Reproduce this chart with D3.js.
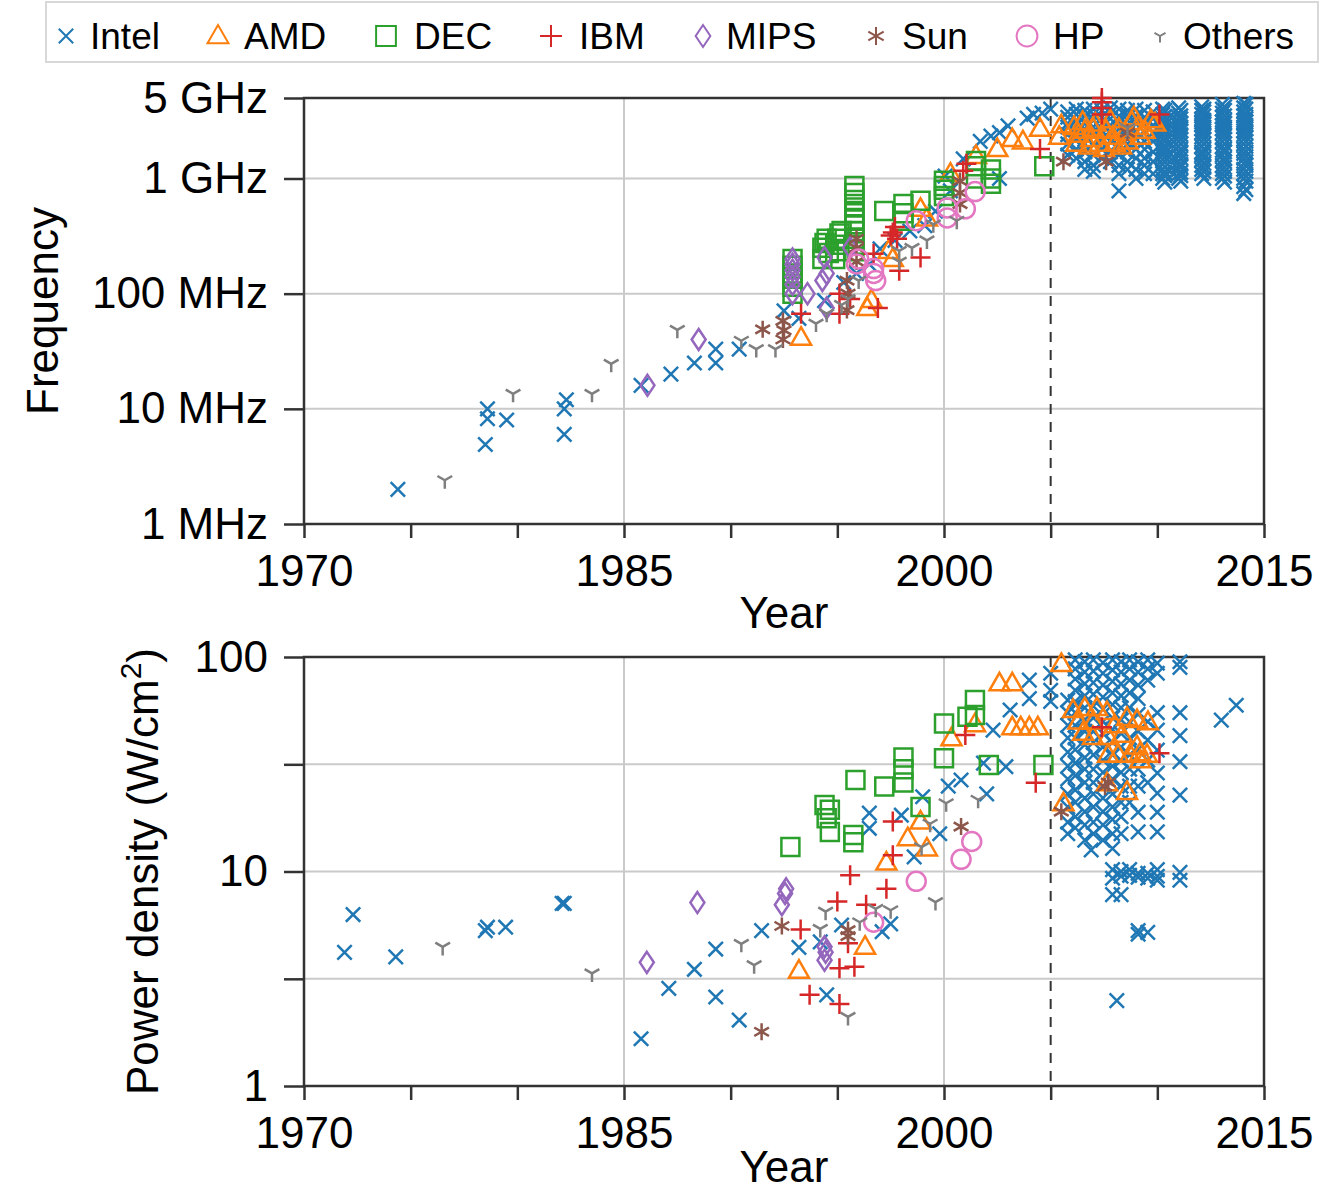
<!DOCTYPE html>
<html>
<head>
<meta charset="utf-8">
<script src="https://cdn.jsdelivr.net/npm/d3@7"></script>
<style>
  body { margin: 0; background: #fff; }
  svg text { font-family: "Liberation Sans", Arial, Helvetica, sans-serif; fill: #000; }
  .tick text { font-size: 44px; }
</style>
</head>
<body>
<svg id="chart" width="1342" height="1192"></svg>
<script>
// ---- data: [year, MHz] for the frequency panel, [year, W/cm2] for power density ----
var vendors = ["Intel", "AMD", "DEC", "IBM", "MIPS", "Sun", "HP", "Others"];
var yearTicks = [1970, 1975, 1980, 1985, 1990, 1995, 2000, 2005, 2010, 2015];
var yearLabels = [1970, 1985, 2000, 2015];
var freqTicks = [1, 10, 100, 1000, 5000];
var freqTickLabels = ["1 MHz", "10 MHz", "100 MHz", "1 GHz", "5 GHz"];
var powerTicks = [1, 3.16, 10, 31.6, 100];
var powerTickLabels = ["1", "", "10", "", "100"];

var intelFreq = [
  [1974.4,2],[1978.5,4.9],[1978.6,8.2],[1978.6,10],[1979.5,8],[1982.2,6],[1982.2,10],[1982.3,12],
  [1985.8,16],[1987.2,20],[1988.3,25],[1989.3,25],[1989.3,33],[1990.4,33],
  [1992.5,71],[1993.2,61],[1994.4,87],[1995.3,125],[1995.9,150],[1996.5,180],[1997.0,245],[1997.7,290],
  [1998.4,350],[1999.1,390],[1999.6,520],[2000.05,1050],[2000.3,780],
  [2000.9,1480],[2001.7,2100],[2002.2,2340],[2002.6,2500],[2002.6,1000],[2003.0,2860],[2003.9,3340],
  [2004.2,3600],[2004.6,3700],[2005.0,4000]
];
// dense runs of Intel parts after 2005, one entry per year position
var intelFreqColumns = [
  [2005.8,[3800,3400,3000,2800,2400,2000,1600]],
  [2006.2,[4000,3600,3200,2900,2600,2200,1800,1500]],
  [2006.6,[3900,3500,3000,2700,2300,2000,1700,1400,1200]],
  [2007.0,[4000,3600,3200,2800,2400,2000,1600,1300,1150]],
  [2007.4,[3900,3400,3000,2600,2200,1800,1500]],
  [2007.8,[4100,3700,3300,2900,2500,2100,1700,1400]],
  [2008.2,[4000,3500,3100,2700,2300,1900,1600,1300,1100,780]],
  [2008.6,[3900,3600,3200,2800,2400,2000,1700,1400,1200]],
  [2009.0,[4000,3500,3000,2600,2200,1800,1500,1200,1000]],
  [2009.4,[3900,3400,3000,2500,2100,1800,1500,1300,1100]],
  [2009.8,[3800,3300,2900,2500,2100,1700,1400,1100]],
  [2010.25,[4000,3600,3300,3000,2800,2600,2400,2200,2000,1860,1730,1600,1460,1330,1200,1100,1000]],
  [2010.35,[3900,3460,3200,2930,2660,2500,2260,2130,1900,1800,1660,1530,1400,1260,1130,1060,930]],
  [2011.0,[4100,3700,3400,3100,2900,2700,2500,2300,2100,1900,1700,1560,1400,1300,1200,1100,1000]],
  [2011.1,[3900,3500,3300,3000,2800,2600,2400,2200,2000,1800,1660,1500,1330,1260,1130,1060,950]],
  [2012.08,[4200,3900,3600,3300,3100,2900,2700,2500,2300,2100,1900,1700,1600,1450,1300,1200,1100]],
  [2012.18,[4000,3800,3500,3200,3000,2800,2600,2400,2200,2000,1800,1650,1500,1350,1250,1150,1000]],
  [2013.05,[4400,4000,3700,3400,3100,2900,2700,2500,2300,2100,1900,1750,1600,1450,1300,1200,1100,1000]],
  [2013.15,[4200,3900,3500,3200,3000,2800,2600,2400,2200,2000,1800,1700,1500,1400,1250,1150,1050,930]],
  [2014.05,[4500,4100,3800,3500,3200,3000,2800,2600,2400,2200,2000,1800,1650,1500,1350,1200,1100,1000,850,740]],
  [2014.15,[4400,4000,3600,3300,3100,2900,2700,2500,2300,2100,1900,1700,1550,1400,1300,1150,1050,950,800]]
];
var amdFreq = [
  [1993.3,41.5],[1996.4,75],[1996.6,88],[1997.4,235],[1997.6,200],[1998.9,545],[1999.2,450],[2000.3,1100],
  [2001.5,1570],[2002.5,1800],[2003.2,2200],[2003.7,2100],[2004.5,2700],[2005.4,2300],[2005.5,2900],
  [2006.1,2800],[2006.2,2000],[2006.3,2400],[2006.5,3100],[2006.6,2600],[2006.8,1900],[2006.9,2200],
  [2007.0,2700],[2007.1,3000],[2007.3,2000],[2007.5,1800],[2007.6,2600],[2007.8,3200],[2007.9,2300],
  [2008.0,2000],[2008.2,2700],[2008.3,1900],[2008.5,2500],[2008.6,2100],[2008.8,3100],[2008.9,3400],
  [2009.1,2800],[2009.2,2300],[2009.4,2600],[2009.7,3200],[2009.9,3000]
];
var decFreq = [
  [1992.9,100],[1992.9,115],[1992.9,135],[1992.9,150],[1992.9,175],[1992.9,200],
  [1994.3,200],[1994.3,250],[1994.4,275],[1994.5,300],[1994.6,225],[1994.9,266],[1994.9,200],
  [1995.0,300],[1995.1,333],[1995.1,233],[1995.2,350],
  [1995.8,860],[1995.8,750],[1995.8,650],[1995.8,560],[1995.8,500],[1995.8,440],[1995.8,400],
  [1995.8,350],[1995.8,300],[1995.8,266],[1995.8,233],
  [1997.2,523],[1998.1,600],[1998.1,500],[1998.1,430],[1998.9,640],[2000.0,955],[2000.0,860],
  [2000.0,800],[2000.0,705],[2001.5,1420],[2001.5,1280],[2001.5,1000],[2002.2,1200],[2002.2,1000],
  [2002.2,900],[2004.7,1280]
];
var ibmFreq = [
  [1993.3,67],[1995.1,100],[1995.1,67],[1995.6,90],[1996.7,222],[1996.9,75],[1997.6,340],[1997.7,380],
  [1997.8,300],[1997.5,320],[1997.9,158],[1998.9,206],[2000.9,1170],[2001.05,1340],[2004.5,1800],
  [2007.4,5000],[2007.4,4600],[2007.4,4100],[2007.4,3600],[2010.1,3600]
];
var mipsFreq = [
  [1986.1,16],[1988.5,40],[1992.9,100],[1992.9,120],[1992.9,140],[1992.9,160],[1992.9,180],[1992.9,200],
  [1993.6,100],[1994.3,130],[1994.4,206],[1994.5,150],[1994.5,75],[1995.6,250]
];
var sunFreq = [
  [1991.5,49],[1992.45,58],[1992.45,40],[1992.5,48],[1995.45,130],[1995.45,72],[1995.5,100],[1995.9,300],
  [1995.9,250],[1995.9,190],[2000.75,950],[2000.75,750],[2000.75,600],[2005.6,1400],[2007.6,1400],[2008.6,2500]
];
var hpFreq = [
  [1995.9,181],[1996.0,200],[1996.7,165],[1996.7,150],[1996.8,130],[1998.7,430],[2000.15,555],
  [2000.15,455],[2001.0,545],[2001.46,770]
];
var othersFreq = [
  [1976.6,2.4],[1979.8,13.5],[1983.5,13.5],[1984.4,24.6],[1987.5,48.5],[1990.5,39],[1991.2,33],[1992.1,33],
  [1994.0,55],[1994.5,67],[1995.2,80],[1995.5,90],[1996.0,130],[1997.9,235],[1997.9,190],[1998.5,250],
  [1999.2,290],[1999.5,400],[2000.6,430],[2008.6,2750]
];

var intelPower = [
  [1971.9,4.2],[1972.3,6.3],[1974.3,4.0],[1978.5,5.3],[1978.6,5.5],[1979.45,5.5],[1982.1,7.1],[1982.2,7.1],
  [1985.8,1.66],[1987.1,2.85],[1988.3,3.5],[1989.3,4.35],[1989.3,2.6],[1990.4,2.03],[1991.45,5.3],
  [1993.2,4.43],[1994.2,4.7],[1994.5,2.66],[1995.2,5.63],[1996.5,18.7],[1996.5,15.9],[1997.1,5.24],[1997.5,5.7],
  [1998.0,18.3],[1998.6,11.7],[1999.0,22.3],[1999.8,15],[2000.2,25],[2000.8,26.7],[2001.85,32],[2002.0,23],
  [2002.3,45.6],[2002.9,30.8],[2003.1,56.6],[2004.0,78],[2004.0,64],[2005.0,84],[2005.0,70],[2005.0,62],
  [2006.9,12.6],[2007.9,12.8],[2008.1,2.5],[2013.0,50.8],[2013.7,59.6]
];
var intelPowerColumns = [
  [2005.8,[63,55,48,42,36,31,27,23,20,17,15]],
  [2006.15,[97,88,79,70,62,55,48,42,37,32,28,24,21,18,16]],
  [2006.6,[95,85,75,66,58,51,45,39,34,30,26,22,19,16.5,14]],
  [2007.0,[97,86,76,67,59,52,45,40,35,30,26,23,20,17,15]],
  [2007.45,[94,84,74,65,57,50,44,38,33,29,25,22,19,16.5,14]],
  [2007.9,[97,87,77,68,60,52,46,40,35,31,27,23,20,17.5,15,10.2,9.3,7.8]],
  [2008.3,[95,85,75,66,58,51,44,38,33,29,25,21,18,15,10,9.5,7.8]],
  [2008.7,[97,88,78,68,58,50,42,35,30,25,21,10.2,9.6]],
  [2009.1,[95,85,74,64,54,45,37,30,25,18.9,15.3,9.8,9.4,5.3,5.1]],
  [2009.55,[97,88,78,50,41,33,26,9.8,9.3,5.2]],
  [2010.0,[93.6,84,55,45.6,36.8,28.8,23.2,18.9,15.3,10.2,9.5,9.1]],
  [2011.06,[95,89.5,55,43,32.5,22.7,9.9,9.1]]
];
var amdPower = [
  [1993.2,3.45],[1996.3,4.46],[1997.3,11],[1998.3,14.3],[1998.9,17.1],[1999.2,12.8],[2000.35,41.8],
  [2001.45,48.6],[2002.6,75.4],[2003.2,75.4],[2003.2,47],[2003.6,47],[2004.0,47],[2004.4,47],[2005.5,92.8],
  [2005.6,20.8],[2006.05,56.6],[2006.3,50],[2006.52,44.3],[2006.6,57.8],[2006.98,42.4],[2007.0,50],
  [2007.17,57.8],[2007.64,55.4],[2007.64,25.8],[2007.69,42.4],[2007.69,35],[2008.0,48],[2008.16,35],
  [2008.34,43.4],[2008.58,52],[2008.58,23.5],[2008.72,35],[2009.05,50.8],[2009.05,38.3],[2009.19,35.6],
  [2009.2,33],[2009.52,35],[2009.56,49.7]
];
var decPower = [
  [1992.8,13],[1994.4,20.4],[1994.65,19.4],[1994.5,17.7],[1994.65,15.3],[1995.75,14.8],[1995.75,13.7],
  [1995.85,26.7],[1997.2,24.9],[1998.1,34],[1998.1,30],[1998.1,26],[1998.9,20],[2000.0,49],[2000.0,33.7],
  [2001.1,52.7],[2001.45,63],[2001.45,53.6],[2002.1,31.4],[2004.66,31.4]
];
var ibmPower = [
  [1993.28,5.37],[1993.7,2.66],[1995.1,2.41],[1995.0,7.24],[1995.1,3.54],[1995.5,4.63],[1995.6,9.6],
  [1995.8,3.6],[1996.35,7.0],[1997.3,8.3],[1997.6,11.9],[1997.6,17.1],[2001.0,43.3],[2004.3,25.9],
  [2007.4,47],[2010.1,35.6]
];
var mipsPower = [
  [1986.07,3.77],[1988.44,7.16],[1992.4,7.0],[1992.55,7.9],[1992.6,8.3],[1994.4,4.46],[1994.4,3.86],[1994.45,4.2]
];
var sunPower = [
  [1991.45,1.79],[1992.4,5.57],[1995.5,5.33],[1995.5,5.0],[2000.8,16.2],[2005.5,19],[2007.55,24.9],[2007.7,26]
];
var hpPower = [
  [1996.7,5.8],[1998.7,9.0],[2000.8,11.4],[2001.3,13.8]
];
var othersPower = [
  [1976.5,4.45],[1983.5,3.35],[1990.5,4.6],[1991.1,3.66],[1994.45,6.5],[1994.2,5.4],[1995.5,2.1],[1996.05,5.8],
  [1996.8,6.7],[1997.5,6.6],[1999.6,7.2],[1999.35,16.7],[1998.95,13],[2000.1,20.8],[2001.6,21.6]
];

// ---- marker shapes (pgfplots-like) ----
var shapes = {
  cross: function(k) { var s = 7.2 * k; return "M" + -s + "," + -s + "L" + s + "," + s + "M" + -s + "," + s + "L" + s + "," + -s; },
  triangle: function(k) { return "M0," + (-10.5 * k) + "L" + (10 * k) + "," + (7 * k) + "L" + (-10 * k) + "," + (7 * k) + "Z"; },
  square: function(k) { var s = 9 * k; return "M" + -s + "," + -s + "H" + s + "V" + s + "H" + -s + "Z"; },
  plus: function(k) { var s = 10 * k; return "M" + -s + ",0H" + s + "M0," + -s + "V" + s; },
  diamond: function(k) { return "M0," + (-10.5 * k) + "L" + (7 * k) + ",0L0," + (10.5 * k) + "L" + (-7 * k) + ",0Z"; },
  asterisk: function(k) {
    var r = 8.5 * k, a = r * 0.866, b = r * 0.5;
    return "M0," + -r + "V" + r + "M" + -a + "," + -b + "L" + a + "," + b + "M" + -a + "," + b + "L" + a + "," + -b;
  },
  circle: function(k) { var r = 9.5 * k; return "M" + r + ",0A" + r + "," + r + " 0 1,1 " + -r + ",0A" + r + "," + r + " 0 1,1 " + r + ",0"; },
  mercedes: function(k) {
    var r = 8.5 * k, a = r * 0.866, b = r * 0.5;
    return "M0,0V" + r + "M0,0L" + -a + "," + -b + "M0,0L" + a + "," + -b;
  }
};

function flatten(cols) {
  var out = [];
  cols.forEach(function(c) { c[1].forEach(function(v) { out.push([c[0], v]); }); });
  return out;
}

var series = [
  {name: "Intel",  color: "#1f77b4", shape: "cross",    freq: intelFreq.concat(flatten(intelFreqColumns)), power: intelPower.concat(flatten(intelPowerColumns)), lx: 66,   tx: 90,   ls: 1.0},
  {name: "AMD",    color: "#ff7f0e", shape: "triangle", freq: amdFreq,    power: amdPower,    lx: 218,  tx: 244,  ls: 1.05},
  {name: "DEC",    color: "#2ca02c", shape: "square",   freq: decFreq,    power: decPower,    lx: 386,  tx: 414,  ls: 1.1},
  {name: "IBM",    color: "#d62728", shape: "plus",     freq: ibmFreq,    power: ibmPower,    lx: 551,  tx: 579,  ls: 1.1},
  {name: "MIPS",   color: "#9467bd", shape: "diamond",  freq: mipsFreq,   power: mipsPower,   lx: 703,  tx: 726,  ls: 1.05},
  {name: "Sun",    color: "#8c564b", shape: "asterisk", freq: sunFreq,    power: sunPower,    lx: 876,  tx: 902,  ls: 1.05},
  {name: "HP",     color: "#e377c2", shape: "circle",   freq: hpFreq,     power: hpPower,     lx: 1027, tx: 1053, ls: 1.1},
  {name: "Others", color: "#7f7f7f", shape: "mercedes", freq: othersFreq, power: othersPower, lx: 1160, tx: 1183, ls: 0.75}
];

var svg = d3.select("#chart");
var left = 304, right = 1264;

var x = d3.scaleLinear().domain([1970, 2015]).range([left, right]);
var yFreq = d3.scaleLog().domain([1, 5000]).range([524, 98]);
var yPower = d3.scaleLog().domain([1, 100]).range([1086, 657]);

function drawPanel(y, key, yTicks, yLabels, yGrid, titleY, yTitle, titleX) {
  var top = y.range()[1], bottom = y.range()[0];
  var g = svg.append("g");

  // grid
  g.selectAll(".hgrid").data(yGrid).enter().append("line")
      .attr("x1", left).attr("x2", right)
      .attr("y1", function(d) { return y(d); }).attr("y2", function(d) { return y(d); })
      .style("stroke", "#cacaca").style("stroke-width", 2);
  g.selectAll(".vgrid").data([1985, 2000]).enter().append("line")
      .attr("x1", function(d) { return x(d); }).attr("x2", function(d) { return x(d); })
      .attr("y1", top).attr("y2", bottom)
      .style("stroke", "#cacaca").style("stroke-width", 2);

  // 2005 marker
  g.append("line")
      .attr("x1", x(2005)).attr("x2", x(2005)).attr("y1", top).attr("y2", bottom)
      .style("stroke", "#333").style("stroke-width", 2).style("stroke-dasharray", "10,8");

  // axes
  var xAxis = g.append("g")
      .attr("transform", "translate(0," + bottom + ")")
      .call(d3.axisBottom(x).tickValues(yearTicks)
        .tickFormat(function(d) { return yearLabels.indexOf(d) >= 0 ? d : ""; })
        .tickSizeInner(14).tickSizeOuter(0).tickPadding(17));
  var yAxis = g.append("g")
      .attr("transform", "translate(" + left + ",0)")
      .call(d3.axisLeft(y).tickValues(yTicks)
        .tickFormat(function(d, i) { return yLabels[i]; })
        .tickSizeInner(20).tickSizeOuter(0).tickPadding(16));
  [xAxis, yAxis].forEach(function(a) {
    a.attr("font-size", null).attr("font-family", null);
    a.select(".domain").remove();
    a.selectAll(".tick line").style("stroke", "#333").style("stroke-width", 2.5);
    a.selectAll(".tick text").style("fill", "#000");
  });

  g.append("rect")
      .attr("x", left).attr("y", top).attr("width", right - left).attr("height", bottom - top)
      .style("fill", "none").style("stroke", "#333").style("stroke-width", 2.5);

  // points
  series.forEach(function(s) {
    g.append("g").selectAll("path").data(s[key]).enter().append("path")
        .attr("transform", function(d) { return "translate(" + x(d[0]) + "," + y(d[1]) + ")"; })
        .attr("d", shapes[s.shape](1))
        .style("fill", "none").style("stroke", s.color).style("stroke-width", 2.5);
  });

  // titles
  svg.append("text")
      .attr("x", (left + right) / 2).attr("y", titleY)
      .attr("text-anchor", "middle").style("font-size", "44px")
      .text("Year");
  var t = svg.append("text")
      .attr("transform", "translate(" + titleX + "," + (top + bottom) / 2 + ") rotate(-90)")
      .attr("text-anchor", "middle").style("font-size", "44px");
  yTitle(t);
}

drawPanel(yFreq, "freq", freqTicks, freqTickLabels, [10, 100, 1000], 628, function(t) {
  t.text("Frequency");
}, 58);

drawPanel(yPower, "power", powerTicks, powerTickLabels, [3.16, 10, 31.6], 1182, function(t) {
  t.append("tspan").text("Power density (W/cm");
  t.append("tspan").attr("dy", -17).style("font-size", "30px").text("2");
  t.append("tspan").attr("dy", 17).text(")");
}, 158);

// legend
var legend = svg.append("g");
legend.append("rect")
    .attr("x", 46).attr("y", 2).attr("width", 1272).attr("height", 60)
    .style("fill", "#fff").style("stroke", "#d8d8d8").style("stroke-width", 2);
series.forEach(function(s) {
  legend.append("path")
      .attr("transform", "translate(" + s.lx + ",36)")
      .attr("d", shapes[s.shape](s.ls))
      .style("fill", "none").style("stroke", s.color).style("stroke-width", 2);
  legend.append("text")
      .attr("x", s.tx).attr("y", 49)
      .style("font-size", "37px")
      .text(s.name);
});
</script>
</body>
</html>
